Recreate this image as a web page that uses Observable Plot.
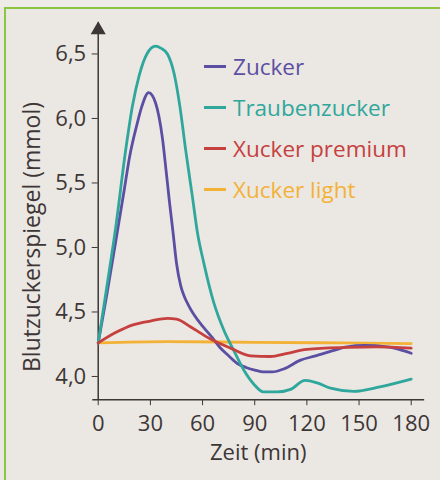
<!DOCTYPE html>
<html><head><meta charset="utf-8">
<script src="https://cdn.jsdelivr.net/npm/d3@7"></script>
<script src="https://cdn.jsdelivr.net/npm/@observablehq/plot@0.6"></script>
<style>
body{margin:0;background:#ebe7e2;}
#wrap{position:relative;width:440px;height:480px;overflow:hidden;background:#ebe7e2;font-family:"Open Sans",sans-serif;}
#topband{position:absolute;left:0;top:0;width:440px;height:7px;background:#efece8}
#bt{position:absolute;left:4px;top:7px;width:436px;height:2px;background:#8cc540}
#bl{position:absolute;left:4px;top:7px;width:2px;height:473px;background:#8cc540}
#legend{position:absolute;left:204px;top:46px;}
.item{display:flex;align-items:center;height:41px;font-size:22.5px;white-space:nowrap}
.sw{width:22px;height:3px;margin-right:7px}
#chart{position:absolute;left:0;top:0}
#ylabel{position:absolute;left:31px;top:237px;transform:translate(-50%,-50%) rotate(-90deg);font-size:23px;color:#3d3636;white-space:nowrap;line-height:1}
</style>
</head><body>
<div id="wrap"><div id="topband"></div><div id="chart"></div><div id="bt"></div><div id="bl"></div><div id="legend"></div><div id="ylabel"></div></div>
<script>
const seriesNames = ["Zucker", "Traubenzucker", "Xucker premium", "Xucker light"];
const seriesColors = ["#5b4fa3", "#2fa79c", "#c6403f", "#f3b236"];
const yLabel = "Blutzuckerspiegel (mmol)";
const xLabel = "Zeit (min)";

const zuckerT = [0, 5, 10, 15, 18, 22.4, 25, 29, 31, 33, 35, 37, 39, 41, 43, 45, 47.5, 49.5, 52, 55, 60, 65, 70, 75, 80, 85, 90, 95, 100, 107, 116, 125, 135, 143, 153, 166, 173, 180];
const zuckerV = [4.26, 4.64, 5.04, 5.45, 5.70, 5.96, 6.09, 6.20, 6.18, 6.12, 6.01, 5.84, 5.60, 5.35, 5.12, 4.88, 4.70, 4.62, 4.55, 4.48, 4.39, 4.31, 4.225, 4.16, 4.10, 4.07, 4.05, 4.035, 4.035, 4.06, 4.125, 4.16, 4.20, 4.23, 4.24, 4.23, 4.21, 4.18];

const traubenT = [0, 5, 10, 15.8, 19.6, 23.5, 28, 33, 36, 39.8, 43.6, 47, 50.3, 54.2, 57, 60.8, 66.5, 72.2, 78, 83.7, 89.5, 95, 103, 110.6, 119, 126, 133.6, 147, 162, 180];
const traubenV = [4.26, 4.70, 5.15, 5.755, 6.09, 6.33, 6.50, 6.56, 6.545, 6.50, 6.35, 6.09, 5.755, 5.39, 5.12, 4.875, 4.57, 4.36, 4.20, 4.05, 3.94, 3.88, 3.88, 3.90, 3.97, 3.95, 3.91, 3.885, 3.92, 3.98];

const premiumT = [0, 10, 20, 30, 40, 45, 53, 64.6, 76, 87.6, 99, 108.7, 120, 143, 160, 180];
const premiumV = [4.26, 4.34, 4.40, 4.43, 4.45, 4.445, 4.385, 4.29, 4.22, 4.16, 4.155, 4.18, 4.21, 4.225, 4.23, 4.22];

const lightT = [0, 40, 90, 140, 180];
const lightV = [4.26, 4.27, 4.265, 4.26, 4.255];

const xTicks = [0, 30, 60, 90, 120, 150, 180];
const yTicks = [4.0, 4.5, 5.0, 5.5, 6.0, 6.5];

const toRows = (name, ts, vs) => ts.map((t, i) => ({series: name, t, v: vs[i]}));
const rows = [
  ...toRows(seriesNames[0], zuckerT, zuckerV),
  ...toRows(seriesNames[1], traubenT, traubenV),
  ...toRows(seriesNames[2], premiumT, premiumV),
  ...toRows(seriesNames[3], lightT, lightV)
];
const drawOrder = [seriesNames[3], seriesNames[0], seriesNames[1], seriesNames[2]];

const ink = "#3d3636";
const chart = Plot.plot({
  width: 440, height: 480,
  marginLeft: 92.5, marginRight: 17.1, marginTop: 22.5, marginBottom: 80.8,
  style: {background: "transparent", fontFamily: "'Open Sans', sans-serif", color: ink},
  x: {domain: [-3, 187]},
  y: {domain: [3.82, 6.74]},
  color: {domain: seriesNames, range: seriesColors},
  marks: [
    Plot.frame({anchor: "bottom", stroke: ink, strokeWidth: 1.5}),
    Plot.ruleX([0], {stroke: ink, strokeWidth: 1.5}),
    Plot.dot([0], {x: d => d, frameAnchor: "top", dy: 7, symbol: "triangle", r: 5.6, fill: ink}),
    Plot.axisX({ticks: xTicks, tickSize: 6, tickPadding: 10, fontSize: 22, stroke: ink, fill: ink, label: xLabel, labelAnchor: "center", labelOffset: 60, labelArrow: "none"}),
    Plot.axisY({ticks: yTicks, tickSize: 6, tickPadding: 6, dx: 5.2, fontSize: 22, stroke: ink, fill: ink, label: null, tickFormat: d => d.toFixed(1).replace(".", ",")}),
    ...drawOrder.map(name => Plot.line(rows.filter(r => r.series === name), {x: "t", y: "v", stroke: "series", strokeWidth: 2.8, curve: "monotone-x"}))
  ]
});
document.getElementById("chart").appendChild(chart);
document.getElementById("ylabel").textContent = yLabel;

const legend = document.getElementById("legend");
seriesNames.forEach((n, i) => {
  const it = document.createElement("div");
  it.className = "item";
  it.style.color = seriesColors[i];
  it.innerHTML = `<span class="sw" style="background:${seriesColors[i]}"></span><span>${n}</span>`;
  legend.appendChild(it);
});
</script>
</body></html>
